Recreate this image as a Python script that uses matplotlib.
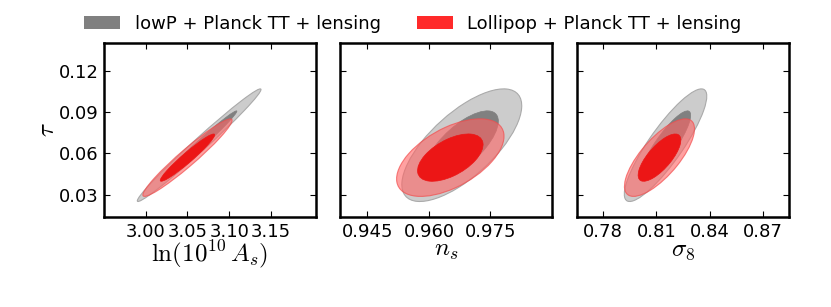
import numpy as np
import matplotlib
matplotlib.use('Agg')
import matplotlib.pyplot as plt
from matplotlib.patches import Ellipse, Patch

plt.rcParams['mathtext.fontset'] = 'cm'
plt.rcParams['font.family'] = 'DejaVu Sans'

# Parameter labels, ranges and ticks
x_labels = [r'$\ln(10^{10}\,A_s)$', r'$n_s$', r'$\sigma_8$']
x_limits = [(2.950, 3.204), (0.9383, 0.990), (0.7655, 0.8845)]
x_ticks = [[3.00, 3.05, 3.10, 3.15], [0.945, 0.960, 0.975], [0.78, 0.81, 0.84, 0.87]]
x_ticklabels = [['3.00', '3.05', '3.10', '3.15'], ['0.945', '0.960', '0.975'],
                ['0.78', '0.81', '0.84', '0.87']]
y_label = r'$\tau$'
y_limits = (0.014, 0.140)
y_ticks = [0.03, 0.06, 0.09, 0.12]
y_ticklabels = ['0.03', '0.06', '0.09', '0.12']

# Gaussian approximations of the posteriors (mean, sigma, correlation with tau)
labels = ['lowP + Planck TT + lensing', 'Lollipop + Planck TT + lensing']

lowp_x_mean = [3.064, 0.9680, 0.8152]
lowp_x_sigma = [0.0298, 0.00588, 0.00931]
lowp_tau_mean = 0.066
lowp_tau_sigma = 0.0164
lowp_rho = [0.988, 0.70, 0.87]

lol_x_mean = [3.050, 0.9652, 0.8118]
lol_x_sigma = [0.0215, 0.00527, 0.00791]
lol_tau_mean = 0.057
lol_tau_sigma = 0.0113
lol_rho = [0.961, 0.55, 0.74]

# 2D chi2 radii for 68% and 95% regions
k68 = np.sqrt(2.30)
k95 = np.sqrt(6.18)


def add_contours(ax, mx, my, sx, sy, rho, outer_style, inner_style):
    cov = np.array([[sx ** 2, rho * sx * sy], [rho * sx * sy, sy ** 2]])
    vals, vecs = np.linalg.eigh(cov)
    angle = np.degrees(np.arctan2(vecs[1, 1], vecs[0, 1]))
    for k, style in [(k95, outer_style), (k68, inner_style)]:
        e = Ellipse((mx, my), width=2 * k * np.sqrt(vals[1]), height=2 * k * np.sqrt(vals[0]),
                    angle=angle, **style)
        ax.add_patch(e)


grey_outer = dict(facecolor='#cccccc', edgecolor='#aaaaaa', lw=0.8)
grey_inner = dict(facecolor='#808080', edgecolor='#808080', lw=0.5)
red_outer = dict(facecolor=(1.0, 0.39, 0.39, 0.6), edgecolor=(0.95, 0.3, 0.3, 0.7), lw=0.8)
red_inner = dict(facecolor='#ec1616', edgecolor='#ec1616', lw=0.5)

fig = plt.figure(figsize=(8.31, 3.07), dpi=100)
lefts = [104 / 831, 340 / 831, 577 / 831]
for i in range(3):
    ax = fig.add_axes([lefts[i], 90 / 307, 212 / 831, 174 / 307])
    add_contours(ax, lowp_x_mean[i], lowp_tau_mean, lowp_x_sigma[i], lowp_tau_sigma,
                 lowp_rho[i], grey_outer, grey_inner)
    add_contours(ax, lol_x_mean[i], lol_tau_mean, lol_x_sigma[i], lol_tau_sigma,
                 lol_rho[i], red_outer, red_inner)
    ax.set_xlim(*x_limits[i])
    ax.set_ylim(*y_limits)
    ax.set_xticks(x_ticks[i])
    ax.set_xticklabels(x_ticklabels[i])
    ax.set_yticks(y_ticks)
    if i == 0:
        ax.set_yticklabels(y_ticklabels)
        ax.set_ylabel(y_label, fontsize=18, labelpad=0)
    else:
        ax.set_yticklabels([])
    ax.set_xlabel(x_labels[i], fontsize=18, labelpad=-2)
    ax.tick_params(direction='in', top=True, right=True, length=4, width=0.8,
                   labelsize=13, pad=4)
    for s in ax.spines.values():
        s.set_linewidth(1.8)

handles = [Patch(facecolor='#808080', edgecolor='none'),
           Patch(facecolor='#ff2a2a', edgecolor='none')]
fig.legend(handles, labels, loc='center left', bbox_to_anchor=(84 / 831, 1 - 24 / 307),
           ncol=2, frameon=False, fontsize=13, borderpad=0, borderaxespad=0)

fig.savefig('out.png', dpi=100)
